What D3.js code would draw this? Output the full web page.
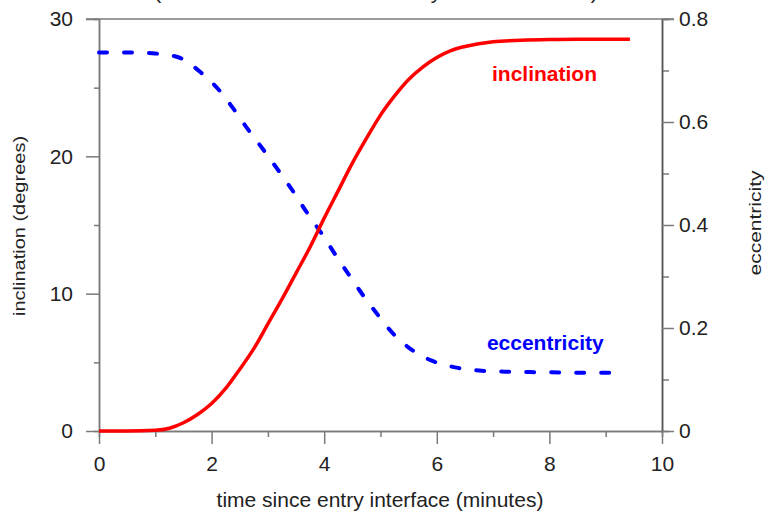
<!DOCTYPE html>
<html><head><meta charset="utf-8">
<script src="https://cdn.jsdelivr.net/npm/d3@7"></script>
<style>
html,body{margin:0;padding:0;background:#fff;}
svg{display:block;font-family:"Liberation Sans",Arial,Helvetica,sans-serif;}
</style></head>
<body>
<svg id="chart" width="769" height="516"></svg>
<script>
// ---- data ----
const titleText = "(the inclination and eccentricity of the final orbit)";
const xTicks = [0, 2, 4, 6, 8, 10];
const xMinorTicks = [1, 3, 5, 7, 9];
const yLeftTicks = [0, 10, 20, 30];
const yLeftMinor = [5, 15, 25];
const yRightTicks = [0, 0.2, 0.4, 0.6, 0.8];
const yRightMinor = [0.1, 0.3, 0.5, 0.7];

const tInc = [0,0.5,1.0,1.25,1.5,1.75,2.0,2.25,2.5,2.75,3.0,3.25,3.5,3.75,4.0,4.25,4.5,4.75,5.0,5.25,5.5,5.75,6.0,6.25,6.5,7.0,7.5,8.0,8.5,9.0,9.43];
const inclination = [0,0,0.05,0.2,0.6,1.2,2.0,3.1,4.5,6.0,7.8,9.6,11.5,13.4,15.5,17.5,19.5,21.3,23.0,24.4,25.6,26.5,27.2,27.7,28.0,28.35,28.45,28.5,28.52,28.52,28.52];

const tEcc = [0,0.5,1.0,1.25,1.45,1.6,1.8,2.1,2.38,2.63,2.9,3.16,3.43,3.7,3.95,4.2,4.46,4.7,4.9,5.2,5.55,5.9,6.35,6.8,7.3,8.0,8.6,9.13];
const eccentricity = [0.735,0.735,0.733,0.73,0.724,0.714,0.697,0.666,0.627,0.588,0.549,0.51,0.468,0.423,0.384,0.342,0.30,0.262,0.233,0.192,0.158,0.137,0.123,0.117,0.115,0.114,0.113,0.113];

const labels = [
  {text: "inclination", t: 6.98, v: 25.5, color: "#ff0000", axis: "left"},
  {text: "eccentricity", t: 6.89, v: 0.157, color: "#0000ff", axis: "right"}
];

// ---- layout ----
const svg = d3.select("#chart");
const L = 99, R = 662, T = 19, B = 431;
const x = d3.scaleLinear().domain([0, 10]).range([L, R]);
const yL = d3.scaleLinear().domain([0, 30]).range([B, T]);
const yR = d3.scaleLinear().domain([0, 0.8]).range([B, T]);
const axisColor = "#7a7a7a";
const fs = 21;

function styleAxis(g){
  g.selectAll("path.domain").attr("stroke", axisColor).attr("stroke-width", 1.5);
  g.selectAll(".tick line").attr("stroke", axisColor).attr("stroke-width", 1.5);
  g.selectAll(".tick text").attr("fill", "#222").style("font-size", fs + "px").style("font-family", "'Liberation Sans',Arial,sans-serif");
}

// title (cut off at the top edge, as in the reference)
svg.append("text").attr("x", 376).attr("y", -1).attr("text-anchor", "middle")
  .style("font-size", "21px").attr("fill", "#222").text(titleText);

// top frame line
svg.append("line").attr("x1", L - 13).attr("x2", R + 12).attr("y1", T).attr("y2", T)
  .attr("stroke", axisColor).attr("stroke-width", 1.5);

// bottom axis
svg.append("g").attr("transform", `translate(0,${B})`)
  .call(d3.axisBottom(x).tickValues(xMinorTicks).tickSize(6).tickFormat(""))
  .call(styleAxis);
svg.append("g").attr("transform", `translate(0,${B})`)
  .call(d3.axisBottom(x).tickValues(xTicks).tickSize(13).tickSizeOuter(0).tickPadding(12).tickFormat(d3.format("d")))
  .call(styleAxis);

// left axis
svg.append("g").attr("transform", `translate(${L},0)`)
  .call(d3.axisLeft(yL).tickValues(yLeftMinor).tickSize(5).tickFormat(""))
  .call(styleAxis);
svg.append("g").attr("transform", `translate(${L},0)`)
  .call(d3.axisLeft(yL).tickValues(yLeftTicks).tickSize(13).tickSizeOuter(0).tickPadding(13).tickFormat(d3.format("d")))
  .call(styleAxis);

// right axis
svg.append("g").attr("transform", `translate(${R},0)`)
  .call(d3.axisRight(yR).tickValues(yRightMinor).tickSize(7).tickFormat(""))
  .call(g => { styleAxis(g); g.selectAll("path.domain").attr("stroke", "#555"); });
svg.append("g").attr("transform", `translate(${R},0)`)
  .call(d3.axisRight(yR).tickValues(yRightTicks).tickSize(12).tickSizeOuter(0).tickPadding(5).tickFormat(d => d === 0 ? "0" : d3.format(".1f")(d)))
  .call(g => { styleAxis(g); g.selectAll("path.domain").attr("stroke", "#555"); });

// axis titles
svg.append("text").attr("x", 380).attr("y", 507).attr("text-anchor", "middle")
  .style("font-size", fs + "px").attr("fill", "#222").text("time since entry interface (minutes)");
svg.append("text").attr("transform", "translate(25,226) rotate(-90) scale(1,0.8)").attr("text-anchor", "middle")
  .style("font-size", "20px").attr("fill", "#222").text("inclination (degrees)");
svg.append("text").attr("transform", "translate(761,223) rotate(-90) scale(1,0.8)").attr("text-anchor", "middle")
  .style("font-size", fs + "px").attr("fill", "#222").text("eccentricity");

// lines
const incLine = d3.line().x((d, i) => x(tInc[i])).y(d => yL(d)).curve(d3.curveMonotoneX);
const eccLine = d3.line().x((d, i) => x(tEcc[i])).y(d => yR(d)).curve(d3.curveMonotoneX);

svg.append("path").attr("d", eccLine(eccentricity)).attr("fill", "none")
  .attr("stroke", "#0000ff").attr("stroke-width", 4)
  .attr("stroke-dasharray", "8,17").attr("stroke-linecap", "round");
svg.append("path").attr("d", incLine(inclination)).attr("fill", "none")
  .attr("stroke", "#ff0000").attr("stroke-width", 3.5).attr("stroke-linejoin", "round");

// series labels
labels.forEach(l => {
  const yy = l.axis === "left" ? yL(l.v) : yR(l.v);
  svg.append("text").attr("x", x(l.t)).attr("y", yy).attr("text-anchor", "start")
    .style("font-size", "21px").style("font-weight", "bold").attr("fill", l.color).text(l.text);
});
</script>
</body></html>
